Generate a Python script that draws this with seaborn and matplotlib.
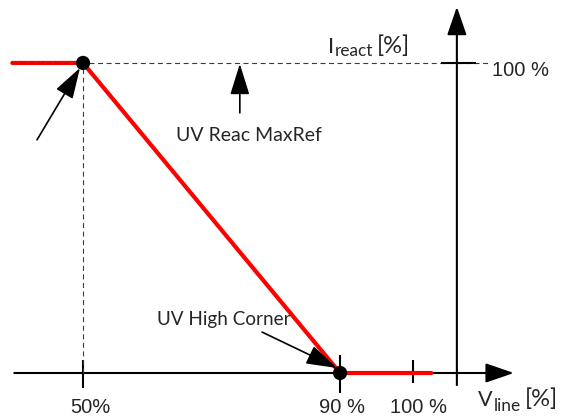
import numpy as np
import pandas as pd
import matplotlib
matplotlib.use("Agg")
import matplotlib.pyplot as plt
import seaborn as sns

# Reactive current limit characteristic (percent of nominal)
v_line = [39, 50, 90, 102.5]          # line voltage [%]
i_react = [100, 100, 0, 0]            # reactive current [%]
corner_v = [50, 90]                   # breakpoints on the curve
corner_i = [100, 0]

x_tick_values = [50, 90, 100]
x_tick_labels = ["50%", "90 %", "100 %"]
y_tick_value = 100
y_tick_label = "100 %"

sns.set_theme(style="white")
plt.rcParams["font.family"] = ["Lato", "DejaVu Sans"]

fig = plt.figure(figsize=(5.62, 4.2), dpi=100)
ax = fig.add_axes([0, 0, 1, 1])


# Schematic voltage axis: the span above 90 % is stretched a little
def fwd(x):
    x = np.asarray(x, dtype=float)
    return np.where(x <= 90, x, 90 + (x - 90) * 1.136)


def inv(u):
    u = np.asarray(u, dtype=float)
    return np.where(u <= 90, u, 90 + (u - 90) / 1.136)


ax.set_xscale("function", functions=(fwd, inv))
ax.set_xlim(37.08, 120.4)
ax.set_ylim(-15.16, 120.3)
ax.axis("off")

curve = pd.DataFrame({"V_line": v_line, "I_react": i_react})
corners = pd.DataFrame({"V_line": corner_v, "I_react": corner_i})

# Reference levels
dash_kw = dict(color="#3a3a3a", lw=0.8, dashes=(4.5, 3.2), zorder=4)
ax.plot([39, 110.4], [100, 100], **dash_kw)
ax.plot([50, 50], [0, 100], **dash_kw)

sns.lineplot(data=curve, x="V_line", y="I_react", color="#ff0000", lw=3.0,
             sort=False, estimator=None, ax=ax, zorder=3)
sns.scatterplot(data=corners, x="V_line", y="I_react", color="black", s=105,
                edgecolor="none", ax=ax, zorder=6)

# Axes drawn as arrows
axis_head = "-|>,head_length=1.45,head_width=0.5"
ax.annotate("", xy=(113.8, 0), xytext=(39.3, 0),
            arrowprops=dict(arrowstyle=axis_head, lw=1.5, color="black",
                            shrinkA=0, shrinkB=0), zorder=2)
ax.annotate("", xy=(106.0, 118.1), xytext=(106.0, -3.9),
            arrowprops=dict(arrowstyle=axis_head, lw=1.5, color="black",
                            shrinkA=0, shrinkB=0), zorder=2)

# Tick marks
ax.vlines(50, -4.8, 4.2, color="black", lw=1.5, zorder=2)
ax.vlines(90, -6.5, 5.8, color="black", lw=1.5, zorder=2)
ax.vlines(100, -3.2, 4.2, color="black", lw=1.5, zorder=2)
ax.hlines(y_tick_value, 103.8, 108.6, color="black", lw=1.5, zorder=5)

arial = ["Liberation Sans", "DejaVu Sans"]
for xv, lab, xc in zip(x_tick_values, x_tick_labels, [51.2, 90.3, 100.8]):
    ax.text(xc, -11.0, lab, ha="center", va="center", fontsize=14.5,
            family=arial)
ax.text(110.8, 97.5, y_tick_label, ha="left", va="center", fontsize=14.5,
        family=arial)

renderer = fig.canvas.get_renderer()
to_data = ax.transData.inverted()


def sub_label(x, y, main, sub, tail, size, drop=4.5, tail_size=17):
    """Main letter, lowered subscript and unit, placed side by side."""
    bx, by = ax.transData.transform((x, y))
    t1 = ax.text(x, y, main, ha="left", va="baseline", fontsize=size)
    x1 = t1.get_window_extent(renderer).x1
    sx, sy = to_data.transform((x1 + 1.0, by - drop))
    t2 = ax.text(sx, sy, sub, ha="left", va="baseline", fontsize=size * 0.8)
    x2 = t2.get_window_extent(renderer).x1
    tx, ty = to_data.transform((x2 + 4.0, by))
    ax.text(tx, ty, tail, ha="left", va="baseline", fontsize=tail_size)


sub_label(108.9, (373 - 406) / 3.1, "V", "line", "[%]", 15.5, drop=5)
sub_label(88.1, (373 - 53) / 3.1, "I", "react", "[%]", 15.5, drop=3.5)

# Annotations
note_head = "-|>,head_length=1.6,head_width=0.5"
ax.annotate("", xy=(74.4, 99.7), xytext=(74.4, 83.9),
            arrowprops=dict(arrowstyle=note_head, lw=1.2, color="black",
                            shrinkA=0, shrinkB=0))
ax.text(64.47, 76.5, "UV Reac MaxRef", ha="left", va="center", fontsize=14)

ax.annotate("", xy=(89.53, 1.6), xytext=(77.86, 13.2),
            arrowprops=dict(arrowstyle=note_head, lw=1.2, color="black",
                            shrinkA=0, shrinkB=0), zorder=5)
ax.text(61.5, 17.1, "UV High Corner", ha="left", va="center", fontsize=13.6)

ax.annotate("", xy=(49.53, 98.4), xytext=(42.84, 75.2),
            arrowprops=dict(arrowstyle=note_head, lw=1.2, color="black",
                            shrinkA=0, shrinkB=0), zorder=5)

fig.savefig("out.png", dpi=100)
